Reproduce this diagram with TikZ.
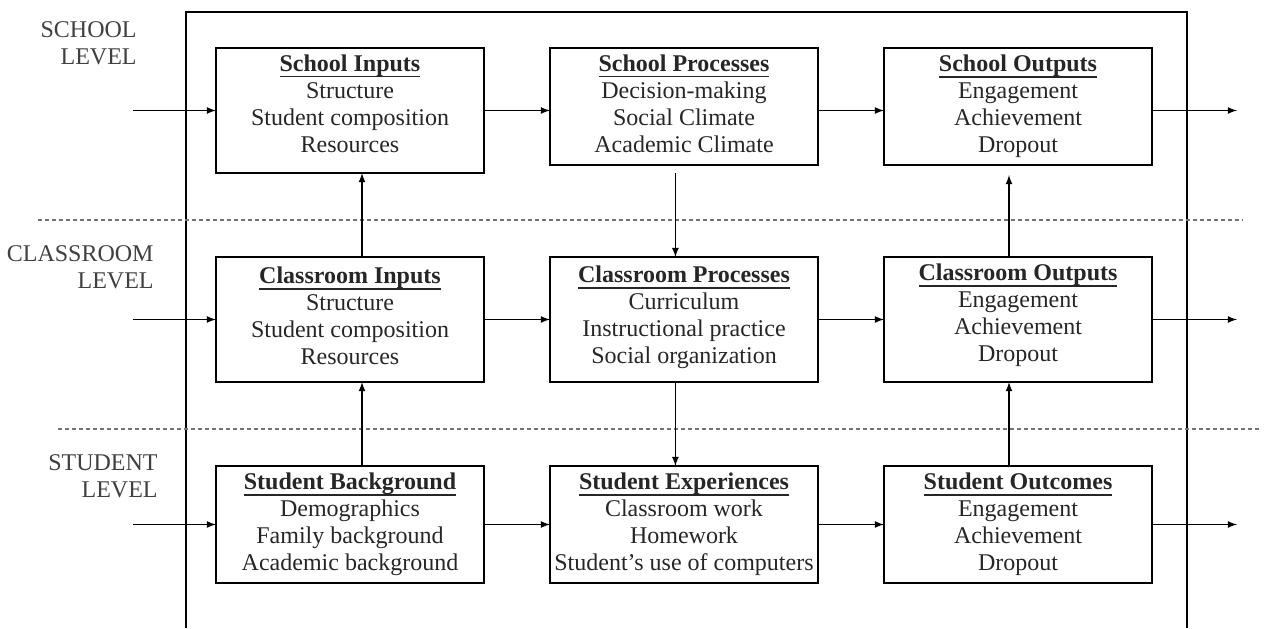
\documentclass[tikz,border=0pt]{standalone}
\usepackage{fontspec}
\setmainfont{Liberation Serif}
\usepackage{tikz}
\usetikzlibrary{arrows,
                positioning}
\tikzset{block/.style=
   {rectangle,
    draw,
    line width=0.8pt,
    text centered,
    align=center,
    text=black!85,
    font=\fontsize{12}{13.5}\selectfont,
    inner sep=0pt,
    outer sep=0pt,
    minimum width=134pt,
    minimum height=58.5pt}}
\tikzset{level/.style =
   {align=right,
    anchor=east,
    inner sep=0pt,
    text=black!75,
    font=\fontsize{12}{13.5}\selectfont}}
\tikzset{divider/.style = {draw, black!55, line width=0.6pt, dash pattern=on 2pt off 1.5pt}}
\tikzset{frame/.style = {draw, line width=0.8pt}}
\tikzset{arrow/.style = {draw, line width=0.6pt, -latex}}
\newcommand{\boxtitle}[1]{\leavevmode\setbox0\hbox{\textbf{#1}}%
  \rlap{\rule[-3pt]{\wd0}{0.9pt}}\box0}
\newcommand{\padbelow}[1]{\rule[-#1]{0pt}{#1}}

\begin{document}
\begin{tikzpicture}[auto]

    \useasboundingbox (0,0) rectangle (632pt,-314pt);

    % outer frame and level dividers
    \draw[frame] (93pt,-314pt) |- (593.5pt,-6pt) -- (593.5pt,-314pt);
    \draw[divider] (19pt,-110pt) -- (621.5pt,-110pt);
    \draw[divider] (29pt,-214.5pt) -- (631pt,-214.5pt);

    % level labels
    \node[level] (lvl0) at (68.5pt,-21.5pt) {SCHOOL\\LEVEL};
    \node[level] (lvl1) at (77pt,-133.5pt) {CLASSROOM\\LEVEL};
    \node[level] (lvl2) at (79pt,-238.3pt) {STUDENT\\LEVEL};

    % school level
    \node [block,
           minimum height=62.5pt,
           anchor=north west] (schoolin) at (108pt,-24pt)
    {\boxtitle{School Inputs}\\
     Structure\\
     Student composition\\
     Resources\padbelow{7pt}};

    \node [block,
           right = 33pt of schoolin.north east,
           anchor=north west] (schoolproc)
    {\boxtitle{School Processes}\\
     Decision-making\\
     Social Climate\\
     Academic Climate\padbelow{3pt}};

    \node [block,
           right = 33pt of schoolproc.north east,
           anchor=north west] (schoolout)
    {\boxtitle{School Outputs}\\
     Engagement\\
     Achievement\\
     Dropout};

    % classroom level
    \node [block,
           minimum height=62.5pt,
           below = 42pt of schoolin.south west,
           anchor=north west] (classin)
    {\boxtitle{Classroom Inputs}\\
     Structure\\
     Student composition\\
     Resources\padbelow{3.5pt}};

    \node [block,
           minimum height=62.5pt,
           right = 33pt of classin.north east,
           anchor=north west] (classproc)
    {\boxtitle{Classroom Processes}\\
     Curriculum\\
     Instructional practice\\
     Social organization\padbelow{4.6pt}};

    \node [block,
           minimum height=62.5pt,
           right = 33pt of classproc.north east,
           anchor=north west] (classout)
    {\boxtitle{Classroom Outputs}\\
     Engagement\\
     Achievement\\
     Dropout\padbelow{6.6pt}};

    % student level
    \node [block,
           below = 42pt of classin.south west,
           anchor=north west] (studbg)
    {\boxtitle{Student Background}\\
     Demographics\\
     Family background\\
     Academic background};

    \node [block,
           right = 33pt of studbg.north east,
           anchor=north west] (studexp)
    {\boxtitle{Student Experiences}\\
     Classroom work\\
     Homework\\
     Student's use of computers};

    \node [block,
           right = 33pt of studexp.north east,
           anchor=north west] (studout)
    {\boxtitle{Student Outcomes}\\
     Engagement\\
     Achievement\\
     Dropout};

    % free ends of the level arrows
    \coordinate [left = 41.5pt of schoolin.west] (in0);
    \coordinate [left = 41.5pt of classin.west] (in1);
    \coordinate [left = 41.5pt of studbg.west] (in2);
    \coordinate (out0) at ([xshift=42.5pt]schoolin.east -| schoolout.east);
    \coordinate [right = 42.5pt of classout.east] (out1);
    \coordinate [right = 42.5pt of studout.east] (out2);

    % flows along each level
    \draw[arrow] (in0) -- (schoolin.west);
    \draw[arrow] (schoolin.east) -- (schoolin.east -| schoolproc.west);
    \draw[arrow] (schoolin.east -| schoolproc.east) -- (schoolin.east -| schoolout.west);
    \draw[arrow] (schoolin.east -| schoolout.east) -- (out0);

    \draw[arrow] (in1) -- (classin.west);
    \draw[arrow] (classin.east) -- (classproc.west);
    \draw[arrow] (classproc.east) -- (classout.west);
    \draw[arrow] (classout.east) -- (out1);

    \draw[arrow] (in2) -- (studbg.west);
    \draw[arrow] (studbg.east) -- (studexp.west);
    \draw[arrow] (studexp.east) -- (studout.west);
    \draw[arrow] (studout.east) -- (out2);

    % flows between levels
    \draw[arrow] ([xshift=6pt]studbg.north) -- ([xshift=6pt]classin.south);
    \draw[arrow] ([xshift=6pt]classin.north) -- ([xshift=6pt]schoolin.south);
    \draw[arrow] ([xshift=-4.3pt,yshift=-4pt]schoolproc.south) -- ([xshift=-4.3pt]classproc.north);
    \draw[arrow] ([xshift=-4.3pt]classproc.south) -- ([xshift=-4.3pt]studexp.north);
    \draw[arrow] ([xshift=-4.5pt]studout.north) -- ([xshift=-4.5pt]classout.south);
    \draw[arrow] ([xshift=-4.5pt]classout.north) -- ([xshift=-4.5pt,yshift=-5pt]schoolout.south);

\end{tikzpicture}
\end{document}
